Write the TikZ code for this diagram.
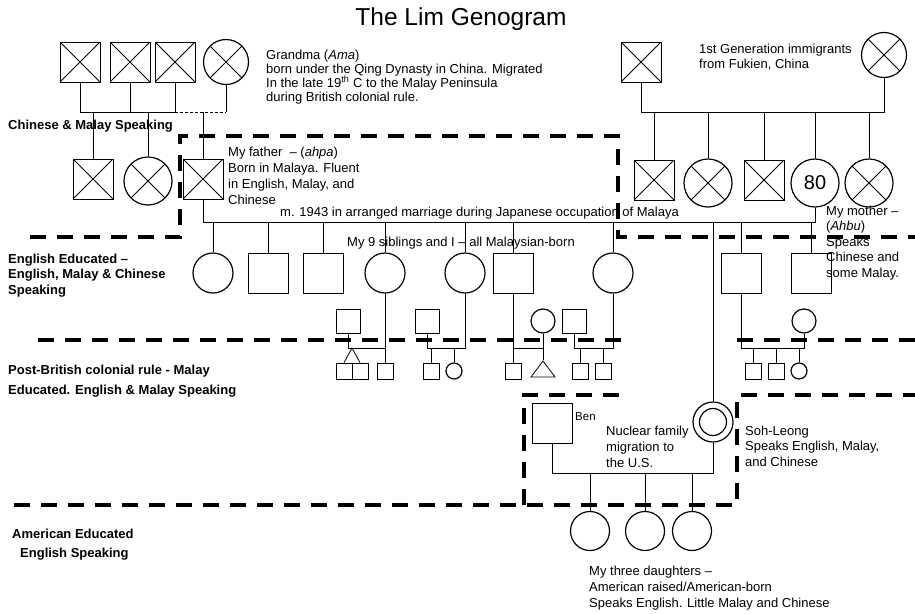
\documentclass[tikz,border=0pt]{standalone}
\usepackage{fontspec}
\setmainfont{Liberation Sans}
\usetikzlibrary{shapes.geometric}

\begin{document}
\begin{tikzpicture}[x=1pt,y=-1pt,
  male/.style={draw,rectangle,minimum size=40pt,inner sep=0pt,line width=.8pt},
  female/.style={draw,circle,minimum size=40pt,inner sep=0pt,line width=1.2pt},
  inlaw/.style={minimum size=24pt},
  grandkid/.style={minimum size=16pt},
  dead/.style={path picture={
    \draw[line width=.8pt] (path picture bounding box.north west) -- (path picture bounding box.south east)
      (path picture bounding box.north east) -- (path picture bounding box.south west);}},
  ego/.style={female,path picture={\draw[line width=1.2pt] (path picture bounding box.center) circle (13.5pt);}},
  tri/.style={draw,isosceles triangle,isosceles triangle stretches,shape border rotate=90,
    minimum width=24pt,minimum height=16pt,inner sep=0pt,line width=.8pt},
  tie/.style={line width=.8pt},
  divider/.style={line width=4pt,dash pattern=on 16pt off 11pt},
  note/.style={anchor=base west,align=left,inner sep=0pt,font=\fontsize{13}{15.5}\selectfont},
  band/.style={anchor=base west,align=left,inner sep=0pt,font=\fontsize{13}{15.5}\selectfont\bfseries}
]
\useasboundingbox (0,0) rectangle (915,613);

\node[anchor=base,font=\fontsize{24.5}{29}\selectfont] (title) at (461,25) {The Lim Genogram};

\node[male,dead] (gpa1) at (80,62) {};
\node[male,dead] (gpa2) at (130,62) {};
\node[male,dead] (gpa3) at (175,62) {};
\node[female,dead,minimum size=45pt] (ama) at (226,62) {};
\node[male,dead] (gpb) at (641,62) {};
\node[female,dead,minimum size=45pt] (gmb) at (884,55) {};

\node[male,dead] (uncle) at (93,179) {};
\node[female,dead,minimum size=48pt] (aunt) at (148,181) {};
\node[male,dead] (father) at (203,179) {};
\node[male,dead] (unb1) at (654,180) {};
\node[female,dead,minimum size=48pt] (aub1) at (708,183) {};
\node[male,dead] (unb2) at (764,180) {};
\node[female,minimum size=48pt,font=\fontsize{20}{24}\selectfont] (mother) at (815,183) {80};
\node[female,dead,minimum size=48pt] (aub2) at (869,183) {};

\node[female] (s1) at (213,273) {};
\node[male] (s2) at (268,273) {};
\node[male] (s3) at (323,273) {};
\node[female] (s4) at (385,273) {};
\node[female] (s5) at (465,273) {};
\node[male] (s6) at (513,273) {};
\node[female] (s7) at (613,273) {};
\node[male] (s9) at (741,273) {};
\node[male] (s10) at (811,273) {};

\node[male,inlaw] (spA) at (348,321) {};
\node[male,grandkid] (twA1) at (344,371) {};
\node[male,grandkid] (twA2) at (360,371) {};
\node[male,grandkid] (kA) at (385,371) {};
\node[male,inlaw] (spB) at (427,321) {};
\node[male,grandkid] (kB1) at (431,371) {};
\node[female,grandkid] (kB2) at (454,371) {};
\node[female,inlaw] (spC) at (543,321) {};
\node[male,grandkid] (kC1) at (513,371) {};
\node[tri] (kC2) at (543,371) {};
\node[male,inlaw] (spD) at (574,321) {};
\node[male,grandkid] (kD1) at (580,371) {};
\node[male,grandkid] (kD2) at (603,371) {};
\node[female,inlaw] (spE) at (804,321) {};
\node[male,grandkid] (kE1) at (753,371) {};
\node[male,grandkid] (kE2) at (776,371) {};
\node[female,grandkid] (kE3) at (799,371) {};

\node[male] (ben) at (552,423) {};
\node[ego] (me) at (713,422) {};
\node[female,minimum size=39pt] (d1) at (590,531) {};
\node[female,minimum size=39pt] (d2) at (645,531) {};
\node[female,minimum size=39pt] (d3) at (692,531) {};

\coordinate (sibs1) at (0,112);
\coordinate (sibs2) at (0,112);
\coordinate (wed) at (0,222);
\coordinate (fam) at (0,348);
\coordinate (twinA) at (352,348);
\coordinate (wed2) at (0,473);

\draw[tie] (gpa1.south) -- (gpa1.south |- sibs1) -- (gpa3.south |- sibs1) -- (gpa3.south);
\draw[tie] (gpa2.south) -- (gpa2.south |- sibs1);
\draw[tie,dash pattern=on 3pt off 2pt] (gpa3.south |- sibs1) -- (ama.south |- sibs1);
\draw[tie] (ama.south) -- (ama.south |- sibs1);
\draw[tie] (uncle.north) -- (uncle.north |- sibs1);
\draw[tie] (aunt.north) -- (aunt.north |- sibs1);
\draw[tie] (father.north) -- (father.north |- sibs1);

\draw[tie] (gpb.south) -- (gpb.south |- sibs2) -- (gmb.south |- sibs2) -- (gmb.south);
\draw[tie] (unb1.north) -- (unb1.north |- sibs2);
\draw[tie] (aub1.north) -- (aub1.north |- sibs2);
\draw[tie] (unb2.north) -- (unb2.north |- sibs2);
\draw[tie] (mother.north) -- (mother.north |- sibs2);
\draw[tie] (aub2.north) -- (aub2.north |- sibs2);

\draw[tie] (father.south) -- (father.south |- wed) -- (mother.south |- wed) -- (mother.south);
\draw[tie] (s1.north) -- (s1.north |- wed);
\draw[tie] (s2.north) -- (s2.north |- wed);
\draw[tie] (s3.north) -- (s3.north |- wed);
\draw[tie] (s4.north) -- (s4.north |- wed);
\draw[tie] (s5.north) -- (s5.north |- wed);
\draw[tie] (s6.north) -- (s6.north |- wed);
\draw[tie] (s7.north) -- (s7.north |- wed);
\draw[tie] (me.north) -- (me.north |- wed);
\draw[tie] (s9.north) -- (s9.north |- wed);
\draw[tie] (s10.north) -- (s10.north |- wed);

\draw[tie] (spA.south) |- (s4.south |- fam) -- (s4.south);
\draw[tie] (twA1.north) -- (twinA) -- (twA2.north);
\draw[tie] (kA.north) -- (kA.north |- fam);
\draw[tie] (spB.south) |- (s5.south |- fam) -- (s5.south);
\draw[tie] (kB1.north) -- (kB1.north |- fam);
\draw[tie] (kB2.north) -- (kB2.north |- fam);
\draw[tie] (s6.south) -- (kC1.north);
\draw[tie] (spC.south) -- (kC2.apex);
\draw[tie] (s6.south |- fam) -- (spC.south |- fam);
\draw[tie] (spD.south) |- (s7.south |- fam) -- (s7.south);
\draw[tie] (kD1.north) -- (kD1.north |- fam);
\draw[tie] (kD2.north) -- (kD2.north |- fam);
\draw[tie] (s9.south) |- (spE.south |- fam) -- (spE.south);
\draw[tie] (kE1.north) -- (kE1.north |- fam);
\draw[tie] (kE2.north) -- (kE2.north |- fam);
\draw[tie] (kE3.north) -- (kE3.north |- fam);

\draw[tie] (ben.south) -- (ben.south |- wed2) -- (me.south |- wed2) -- (me.south);
\draw[tie] (d1.north) -- (d1.north |- wed2);
\draw[tie] (d2.north) -- (d2.north |- wed2);
\draw[tie] (d3.north) -- (d3.north |- wed2);

\draw[divider] (30,237) -- (180,237) -- (180,136) -- (618,136) -- (618,237) -- (915,237);
\draw[divider] (38,340) -- (630,340);
\draw[divider] (737,340) -- (915,340);
\draw[divider] (14,505) -- (737,505) -- (737,395) -- (915,395);
\draw[divider] (524,505) -- (524,395) -- (622,395);

\node[note,font=\fontsize{13}{14}\selectfont] (amanote) at (266,101)
  {Grandma (\textit{Ama})\\born under the Qing Dynasty in China. Migrated\\
   In the late 19\textsuperscript{th} C to the Malay Peninsula\\during British colonial rule.};
\node[note] (fukien) at (699,68.5) {1st Generation immigrants\\from Fukien, China};
\node[note,font=\fontsize{13}{16}\selectfont] (fathernote) at (228,204)
  {My father \ – (\textit{ahpa})\\Born in Malaya. Fluent\\in English, Malay, and\\Chinese};
\node[note] (wednote) at (280,216) {m. 1943 in arranged marriage during Japanese occupation of Malaya};
\node[note] (sibsnote) at (347,246) {My 9 siblings and I – all Malaysian-born};
\node[note] (mothernote) at (826,277)
  {My mother –\\(\textit{Ahbu})\\Speaks\\Chinese and\\some Malay.};
\node[note,font=\fontsize{11.5}{14}\selectfont] (bennote) at (575,420) {Ben};
\node[note,font=\fontsize{13}{16}\selectfont] (usnote) at (606,467) {Nuclear family\\migration to\\the U.S.};
\node[note] (menote) at (745,466) {Soh-Leong\\Speaks English, Malay,\\and Chinese};
\node[note,font=\fontsize{13}{16}\selectfont] (dnote) at (589,607)
  {My three daughters –\\American raised/American-born\\Speaks English. Little Malay and Chinese};

\node[band] (band1) at (8,129) {Chinese \& Malay Speaking};
\node[band] (band2) at (8,294) {English Educated –\\English, Malay \& Chinese\\Speaking};
\node[band,font=\fontsize{13}{20}\selectfont\bfseries] (band3) at (8,394)
  {Post-British colonial rule - Malay\\Educated. English \& Malay Speaking};
\node[band] (band4a) at (12,538) {American Educated};
\node[band] (band4b) at (20,557) {English Speaking};
\end{tikzpicture}
\end{document}
